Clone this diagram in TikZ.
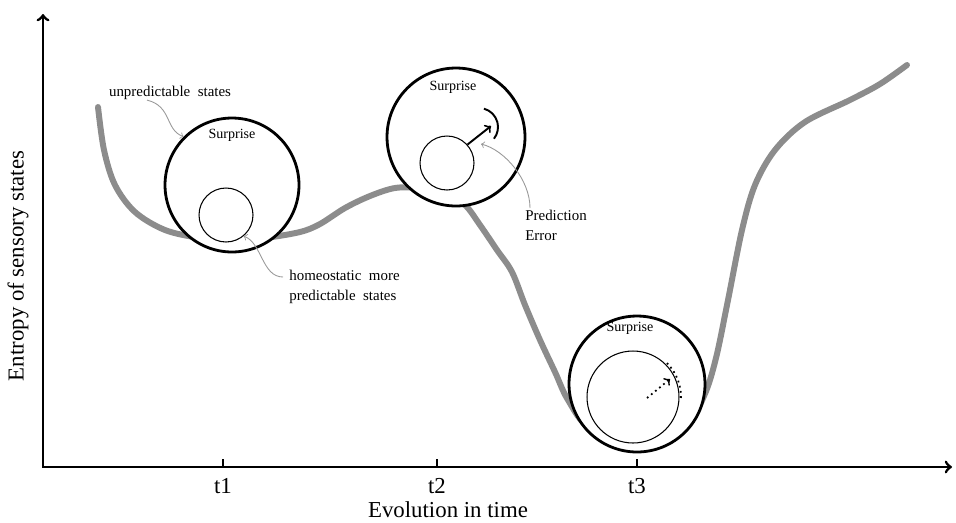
\documentclass[tikz,border=0pt]{standalone}
\usepackage{fontspec}
\setmainfont{Liberation Serif}
\usetikzlibrary{arrows}

\begin{document}
\begin{tikzpicture}[x=0.02cm,y=-0.02cm,>=to,
  big circle/.style={circle,draw,fill=white,line width=1.6pt,inner sep=0pt},
  small circle/.style={circle,draw,line width=0.6pt,inner sep=0pt},
  note/.style={font=\fontsize{8.5}{11.3}\selectfont,align=left,inner sep=0pt},
  surprise/.style={font=\fontsize{8}{10}\selectfont},
  note arrow/.style={->,draw=black!40,line width=0.5pt},
  axis label/.style={font=\fontsize{13}{15}\selectfont}]

  \useasboundingbox (0,0) rectangle (956,522);

  % entropy curve, drawn first so the circles hide it
  \draw[black!45,line width=3.4pt,line cap=round] plot[smooth,tension=0.55] coordinates {
    (98,107) (104,150) (115,185) (135,212) (165,230) (200,238) (232,241)
    (265,238) (300,232) (320,224) (345,208) (370,196) (395,188) (420,188)
    (445,193) (465,205) (480,225) (497,250) (512,272) (525,305) (540,340)
    (555,372) (568,400) (590,428) (637,440) (684,428) (704,396) (716,358)
    (728,300) (742,230) (755,185) (775,150) (805,122) (850,100) (880,84) (907,65)};

  % surprise circles
  \node[big circle,minimum size=2.68cm] (c1) at (232,185) {};
  \node[big circle,minimum size=2.76cm] (c2) at (456,137) {};
  \node[big circle,minimum size=2.72cm] (c3) at (637,384) {};

  \node[small circle,minimum size=1.08cm] (h1) at (226,215) {};
  \node[small circle,minimum size=1.08cm] (h2) at (447,163) {};
  \node[small circle,minimum size=1.84cm] (h3) at (633,397) {};

  \node[surprise] (s1) at (232,135) {Surprise};
  \node[surprise] (s2) at (453,87) {Surprise};
  \node[surprise] (s3) at (630,328) {Surprise};

  % prediction error at t2
  \coordinate (pe tip) at (491,126);
  \draw[->,line width=1.1pt] (h2.42) -- (pe tip);
  \draw[line width=1.1pt] ([shift={(-75:19)}]479,127) arc[start angle=-75,end angle=38,radius=19];

  % larger error at t3
  \coordinate (de start) at (647,398);
  \coordinate (de tip) at (670,379);
  \draw[->,dotted,line width=1pt] (de start) -- (de tip);
  \draw[dotted,line width=1pt] ([shift={(-45:48)}]h3.center) arc[start angle=-45,end angle=5,radius=48];

  % notes
  \node[note] (up) at (170,93) {unpredictable\ \ states};
  \node[note,anchor=west] (homeo) at (289,287) {homeostatic\ \ more\\predictable\ \ states};
  \node[note,anchor=west] (pe) at (525,225) {Prediction\\Error};
  \coordinate (pe target) at (481,144);

  \draw[note arrow] ([xshift=-0.46cm]up.south) .. controls (172,106) and (165,130) .. (c1.135);
  \draw[note arrow] ([shift={(-6,-10)}]homeo.west) .. controls (262,277) and (262,243) .. (h1.-50);
  \draw[note arrow] ([shift={(5,-17)}]pe.west) .. controls (530,180) and (505,150) .. (pe target);

  % axes
  \coordinate (o) at (43,467);
  \coordinate (ytop) at (43,14);
  \coordinate (xend) at (952,467);
  \draw[<->,line width=1.6pt] (ytop) -- (o) -- (xend);

  \foreach \t/\x in {t1/223,t2/437,t3/637} {
    \draw[line width=1.2pt] (\x,467) -- (\x,459);
    \node[axis label] (\t) at (\x,486) {\t};
  }
  \node[axis label] (xlabel) at (448,510) {Evolution in time};
  \node[axis label,rotate=90] (ylabel) at (18,266) {Entropy of sensory states};
\end{tikzpicture}
\end{document}
